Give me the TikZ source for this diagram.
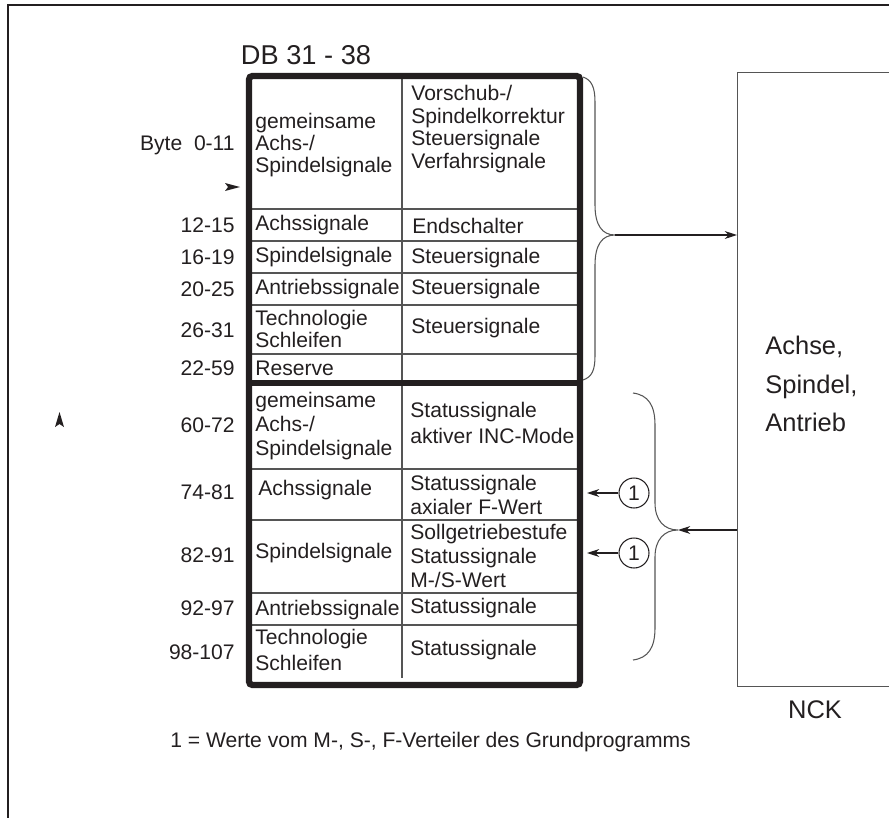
\documentclass[tikz,border=0pt]{standalone}
\usepackage{fontspec}
\setmainfont{Liberation Sans}
\usepackage{tikz}
\usetikzlibrary{arrows.meta}
\definecolor{DBBlack}{RGB}{35,31,32}
\definecolor{DBGray}{RGB}{85,85,85}

\begin{document}
\begin{tikzpicture}[x=0.02cm, y=-0.02cm,
    every node/.style={font=\fontsize{12}{13}\selectfont, text=DBBlack, inner sep=0pt},
    byte/.style={anchor=east},
    cell/.style={anchor=west, align=left},
    rule/.style={DBGray, line width=0.7pt},
    klammer/.style={DBGray, line width=0.6pt},
    pfeil/.style={DBBlack, line width=0.6pt, -{Stealth[length=7pt, width=4.5pt]}},
    nr/.style={draw=DBBlack, circle, line width=0.6pt, minimum size=0.6cm}]
    \clip (0,0) rectangle (889,818);

    % --- Rahmen ---
    \draw[DBBlack, line width=0.8pt] (8,830) -- (8,5) -- (900,5);

    % --- DB 31 - 38 (Tabelle) ---
    \node[font=\fontsize{15.5}{17}\selectfont] (db) at (306,55) {DB 31 - 38};
    \foreach \y in {209,241,273,305,354,469,520,593,625}
      \draw[rule] (249,\y) -- (580,\y);
    \draw[rule] (402,76) -- (402,678);
    \draw[DBBlack, line width=3.6pt, rounded corners=2pt] (249,76) rectangle (580,685);
    \draw[DBBlack, line width=3.6pt] (249,383) -- (580,383);

    % --- Byte-Nummern ---
    \foreach \t/\y [count=\i] in {Byte~~0-11/145, 12-15/225, 16-19/257, 20-25/289,
                                 26-31/330, 22-59/368, 60-72/425, 74-81/492,
                                 82-91/555, 92-97/608, 98-107/652} {
      \node[byte] (b\i) at (235,\y) {\t};
    }

    % --- linke Spalte ---
    \node[cell, font=\fontsize{12}{12.6}\selectfont] (a1) at (255,145) {gemeinsame\\Achs-/\\Spindelsignale};
    \node[cell] (a2) at (255,225) {Achssignale};
    \node[cell] (a3) at (255,257) {Spindelsignale};
    \node[cell] (a4) at (255,289) {Antriebssignale};
    \node[cell, font=\fontsize{12}{10.3}\selectfont] (a5) at (255,329) {Technologie\\Schleifen};
    \node[cell] (a6) at (255,368) {Reserve};
    \node[cell, font=\fontsize{12}{13.7}\selectfont] (a7) at (255,426) {gemeinsame\\Achs-/\\Spindelsignale};
    \node[cell] (a8) at (258,490) {Achssignale};
    \node[cell] (a9) at (255,553) {Spindelsignale};
    \node[cell] (a10) at (255,610) {Antriebssignale};
    \node[cell, font=\fontsize{12}{14.8}\selectfont] (a11) at (255,650) {Technologie\\Schleifen};

    % --- rechte Spalte ---
    \node[cell, font=\fontsize{12}{12.9}\selectfont] (c1) at (411,129) {Vorschub-/\\Spindelkorrektur\\Steuersignale\\Verfahrsignale};
    \node[cell] (c2) at (412,226) {Endschalter};
    \node[cell] (c3) at (411,258) {Steuersignale};
    \node[cell] (c4) at (411,289) {Steuersignale};
    \node[cell] (c5) at (411,328) {Steuersignale};
    \node[cell, font=\fontsize{12}{15.3}\selectfont] (c7) at (410,423) {Statussignale\\aktiver INC-Mode};
    \node[cell, font=\fontsize{12}{13.7}\selectfont] (c8) at (410,495) {Statussignale\\axialer F-Wert};
    \node[cell, font=\fontsize{12}{13.4}\selectfont] (c9) at (410,556) {Sollgetriebestufe\\Statussignale\\M-/S-Wert};
    \node[cell] (c10) at (410,608) {Statussignale};
    \node[cell] (c11) at (410,650) {Statussignale};

    % --- einzelne Pfeilspitzen ---
    \fill[DBBlack] (225,183) -- (240,187) -- (225,191) -- (228,187) -- cycle;
    \fill[DBBlack] (55,427) -- (59.5,412) -- (64,427) -- (59.5,424) -- cycle;

    % --- NCK ---
    \node[draw=DBGray, line width=0.75pt, minimum width=4.6cm, minimum height=12.28cm,
          anchor=north west] (nck) at (737,72) {};
    \node[cell, font=\fontsize{14.5}{22}\selectfont] (achse) at (765,384) {Achse,\\Spindel,\\Antrieb};
    \node[font=\fontsize{14.5}{16}\selectfont] (ncklabel) at (815,710) {NCK};

    % --- Klammer oben, Pfeil zum NCK ---
    \coordinate (tipU) at (615,235);
    \draw[klammer] (583,77) .. controls (592,80) and (595,88) .. (595,102) -- (595,205)
      .. controls (595,225) and (602,235) .. (tipU)
      .. controls (602,235) and (595,245) .. (595,265) -- (595,356)
      .. controls (595,370) and (592,377) .. (583,380);
    \draw[pfeil] (tipU) -- (tipU -| nck.west);

    % --- Klammer unten, Pfeil vom NCK ---
    \coordinate (tipL) at (678,530);
    \draw[klammer] (633,393) .. controls (648,395) and (655,405) .. (655,425) -- (655,503)
      .. controls (655,520) and (664,530) .. (tipL)
      .. controls (664,530) and (655,540) .. (655,557) -- (655,628)
      .. controls (655,648) and (648,658) .. (633,660);
    \draw[pfeil] (tipL -| nck.west) -- (tipL);

    % --- Werte (1) ---
    \node[nr] (n1) at (634,493) {1};
    \node[nr] (n2) at (634,553) {1};
    \coordinate (e1) at (587,493);
    \coordinate (e2) at (587,553);
    \draw[pfeil] (n1) -- (e1);
    \draw[pfeil] (n2) -- (e2);

    % --- Fussnote ---
    \node[anchor=west] (fn) at (170,742) {1 = Werte vom M-, S-, F-Verteiler des Grundprogramms};

  \end{tikzpicture}
\end{document}
